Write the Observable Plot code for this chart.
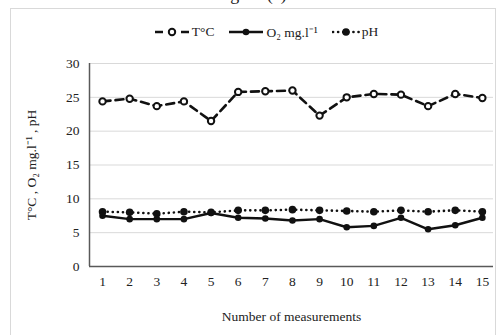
<!DOCTYPE html>
<html>
<head>
<meta charset="utf-8">
<script src="https://cdn.jsdelivr.net/npm/d3@7"></script>
<script src="https://cdn.jsdelivr.net/npm/@observablehq/plot@0.6"></script>
<style>
  body { margin: 0; background: #fff; font-family: "Liberation Serif", serif; }
  #wrap { position: relative; width: 502px; height: 335px; overflow: hidden; }
  #border { position: absolute; left: 10px; top: 8px; width: 486px; height: 340px; border: 1px solid #d9d9d9; box-sizing: border-box; }
  #title { position: absolute; left: 0; width: 502px; top: -16px; text-align: center; font-size: 18px; color: #222; }
  #legend { position: absolute; top: 23px; left: 0; width: 532px; display: flex; justify-content: center; gap: 14px; font-size: 13.5px; color: #222; align-items: center; }
  #legend .it { display: flex; align-items: center; gap: 2px; }
  #chart { position: absolute; left: 0; top: 0; }
</style>
</head>
<body>
<div id="wrap">
  <div id="title">Figure (a)</div>
  <div id="border"></div>
  <div id="legend"></div>
  <div id="chart"></div>
</div>
<script>
const measurements = [1,2,3,4,5,6,7,8,9,10,11,12,13,14,15];
const temperature = [24.4,24.8,23.7,24.4,21.5,25.8,25.9,26.0,22.3,25.0,25.5,25.4,23.7,25.5,24.9];
const oxygen = [7.5,7.0,7.0,7.0,7.9,7.2,7.1,6.8,7.0,5.8,6.0,7.2,5.5,6.1,7.2];
const ph = [8.1,8.0,7.8,8.1,8.0,8.3,8.3,8.4,8.3,8.2,8.1,8.3,8.1,8.3,8.1];
const yTicks = [0,5,10,15,20,25,30];
const seriesNames = ["T°C", "O₂ mg.l⁻¹", "pH"];

const tData = measurements.map((m,i) => ({m, v: temperature[i]}));
const oData = measurements.map((m,i) => ({m, v: oxygen[i]}));
const pData = measurements.map((m,i) => ({m, v: ph[i]}));

const chart = Plot.plot({
  width: 502,
  height: 335,
  marginLeft: 89,
  marginRight: 9,
  marginTop: 63,
  marginBottom: 69,
  style: { fontFamily: "Liberation Serif, serif", fontSize: "13.5px", color: "#222", background: "transparent" },
  x: { domain: [0.52, 15.41], ticks: measurements, tickSize: 0, tickPadding: 10, tickFormat: d => d, label: "Number of measurements", labelAnchor: "center", labelOffset: 54, labelArrow: false },
  y: { domain: [0, 30], ticks: yTicks, tickSize: 0, tickPadding: 10, label: "T°C , O₂ mg.l⁻¹ , pH", labelAnchor: "center", labelOffset: 63, labelArrow: false },
  marks: [
    Plot.ruleY(yTicks.filter(d => d > 0), { stroke: "#d9d9d9", strokeWidth: 1 }),
    Plot.ruleY([0], { stroke: "#595959", strokeWidth: 1.5 }),
    Plot.ruleX([0.52], { stroke: "#595959", strokeWidth: 1.5 }),
    Plot.line(pData, { x: "m", y: "v", stroke: "#111", strokeWidth: 2.6, strokeDasharray: "0.1,5", strokeLinecap: "round" }),
    Plot.line(oData, { x: "m", y: "v", stroke: "#111", strokeWidth: 2.4 }),
    Plot.line(tData, { x: "m", y: "v", stroke: "#111", strokeWidth: 2.6, strokeDasharray: "8,5" }),
    Plot.dot(pData, { x: "m", y: "v", r: 3.8, fill: "#111", stroke: "none" }),
    Plot.dot(oData, { x: "m", y: "v", r: 3.3, fill: "#111", stroke: "none" }),
    Plot.dot(tData, { x: "m", y: "v", r: 3.2, fill: "#fff", stroke: "#111", strokeWidth: 2 })
  ]
});
document.getElementById("chart").appendChild(chart);

// legend
const legendStyles = [
  { dash: "8,5", fill: "#fff", r: 3.2, sw: 2, w: 36, cap: "butt" },
  { dash: null, fill: "#111", r: 3.3, sw: 0, w: 36, cap: "butt" },
  { dash: "0.1,5", fill: "#111", r: 3.8, sw: 0, w: 28, cap: "round" }
];
const legend = d3.select("#legend");
seriesNames.forEach((name, i) => {
  const s = legendStyles[i];
  const it = legend.append("div").attr("class", "it");
  const svg = it.append("svg").attr("width", s.w).attr("height", 12);
  svg.append("line").attr("x1", 1).attr("x2", s.w - 1).attr("y1", 6).attr("y2", 6)
    .attr("stroke", "#111").attr("stroke-width", 2.6)
    .attr("stroke-dasharray", s.dash).attr("stroke-linecap", s.cap);
  svg.append("circle").attr("cx", s.w / 2).attr("cy", 6).attr("r", s.r)
    .attr("fill", s.fill).attr("stroke", s.sw ? "#111" : "none").attr("stroke-width", s.sw);
  it.append("span").text(name);
});
</script>
</body>
</html>
